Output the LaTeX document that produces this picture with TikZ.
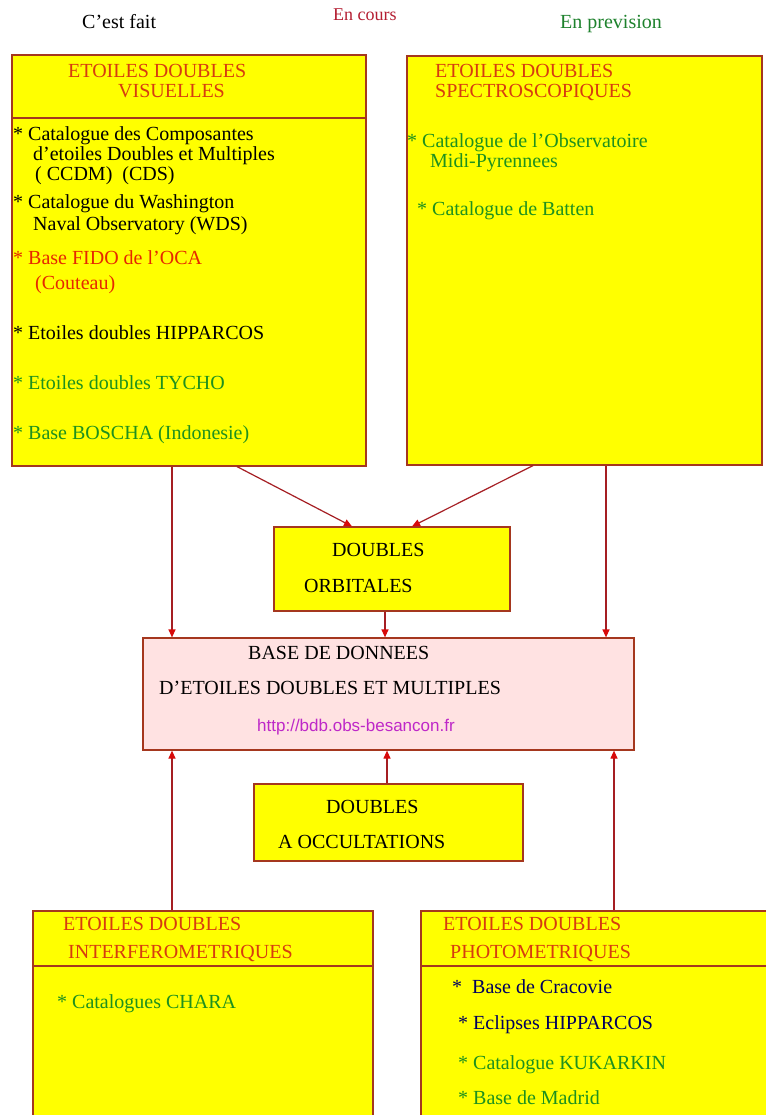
\documentclass[tikz,border=0pt]{standalone}
\usepackage{fontspec}
\setmainfont{Liberation Serif}
\newfontfamily\urlfont{Liberation Sans}
\usetikzlibrary{arrows.meta}
\definecolor{boxc}{RGB}{165,55,30}
\definecolor{linec}{RGB}{165,30,35}
\definecolor{tipc}{RGB}{215,10,10}
\definecolor{yfill}{RGB}{255,255,0}
\definecolor{pinkfill}{RGB}{255,226,226}
\definecolor{headc}{RGB}{215,60,15}
\definecolor{redc}{RGB}{230,40,0}
\definecolor{greenc}{RGB}{30,145,30}
\definecolor{navyc}{RGB}{0,0,95}
\definecolor{urlc}{RGB}{190,40,200}
\definecolor{coursc}{RGB}{180,30,50}
\definecolor{prevc}{RGB}{30,130,45}
\begin{document}
\begin{tikzpicture}[x=1pt,y=-1pt,
  ybox/.style={draw=boxc, fill=yfill, line width=1.2pt, inner sep=0pt},
  pbox/.style={draw=boxc, fill=pinkfill, line width=1.2pt, inner sep=0pt},
  txt/.style={anchor=base west, inner sep=0pt, font=\fontsize{20}{22}\selectfont},
  head/.style={txt, text=headc},
  arr/.style={draw=linec, line width=1.2pt, -{Triangle[length=8pt,width=7pt,color=tipc]}},
  sepline/.style={draw=boxc, line width=1.2pt}]
\useasboundingbox (0,0) rectangle (765,1115);
\fill[white] (0,0) rectangle (765,1115);

% top labels
\node[txt] (fait) at (82,29) {C’est fait};
\node[txt, text=coursc, font=\fontsize{18}{20}\selectfont] (cours) at (333,21) {En cours};
\node[txt, text=prevc] (prev) at (560,29) {En prevision};

% boxes
\node[ybox, minimum width=354pt, minimum height=411pt] (vis) at (189,260.5) {};
\node[ybox, minimum width=355pt, minimum height=409pt] (spec) at (584.5,260.5) {};
\node[ybox, minimum width=236pt, minimum height=84pt] (orb) at (392,569) {};
\node[pbox, minimum width=491pt, minimum height=112pt] (base) at (388.5,694) {};
\node[ybox, minimum width=269pt, minimum height=77pt] (occ) at (388.5,822.5) {};
\node[ybox, minimum width=340pt, minimum height=214pt] (interf) at (203,1018) {};
\node[ybox, minimum width=354pt, minimum height=214pt] (photo) at (598,1018) {};

% separators
\draw[sepline] (12,118) -- (366,118);
\draw[sepline] (33,966) -- (373,966);
\draw[sepline] (421,966) -- (775,966);

% visuelles
\node[head] (v1) at (68,78) {ETOILES DOUBLES};
\node[head] (v2) at (118,98) {VISUELLES};
\node[txt] (v3) at (13,141) {* Catalogue des Composantes};
\node[txt] (v4) at (33,161) {d’etoiles Doubles et Multiples};
\node[txt] (v5) at (35,181) {( CCDM)\ \ (CDS)};
\node[txt] (v6) at (13,209) {* Catalogue du Washington};
\node[txt] (v7) at (33,230) {Naval Observatory (WDS)};
\node[txt, text=redc] (v8) at (13,264) {* Base FIDO de l’OCA};
\node[txt, text=redc] (v9) at (35,289) {(Couteau)};
\node[txt] (v10) at (13,339) {* Etoiles doubles HIPPARCOS};
\node[txt, text=greenc] (v11) at (13,389) {* Etoiles doubles TYCHO};
\node[txt, text=greenc] (v12) at (13,439) {* Base BOSCHA (Indonesie)};

% spectroscopiques
\node[head] (s1) at (435,78) {ETOILES DOUBLES};
\node[head] (s2) at (435,98) {SPECTROSCOPIQUES};
\node[txt, text=greenc] (s3) at (407,148) {* Catalogue de l’Observatoire};
\node[txt, text=greenc] (s4) at (430,168) {Midi-Pyrennees};
\node[txt, text=greenc] (s5) at (417,216) {* Catalogue de Batten};

% orbitales
\node[txt] (o1) at (332,556) {DOUBLES};
\node[txt] (o2) at (304,592) {ORBITALES};

% base
\node[txt] (b1) at (248,659) {BASE DE DONNEES};
\node[txt] (b2) at (159,694) {D’ETOILES DOUBLES ET MULTIPLES};
\node[txt, text=urlc, font=\urlfont\fontsize{17}{19}\selectfont] (b3) at (257,731) {http://bdb.obs-besancon.fr};

% occultations
\node[txt] (c1) at (326,813) {DOUBLES};
\node[txt] (c2) at (278,848) {A OCCULTATIONS};

% interferometriques
\node[head] (i1) at (63,930) {ETOILES DOUBLES};
\node[head] (i2) at (68,958) {INTERFEROMETRIQUES};
\node[txt, text=greenc] (i3) at (57,1008) {* Catalogues CHARA};

% photometriques
\node[head] (p1) at (443,930) {ETOILES DOUBLES};
\node[head] (p2) at (450,958) {PHOTOMETRIQUES};
\node[txt, text=navyc] (p3) at (452,993) {*\ \ Base de Cracovie};
\node[txt, text=navyc] (p4) at (458,1029) {* Eclipses HIPPARCOS};
\node[txt, text=greenc] (p5) at (458,1069) {* Catalogue KUKARKIN};
\node[txt, text=greenc] (p6) at (458,1104) {* Base de Madrid};

% connector x positions
\coordinate (xL) at (172,0);
\coordinate (xR) at (606,0);
\coordinate (xM) at (385,0);
\coordinate (xD1a) at (237,0);
\coordinate (xD1b) at (352,0);
\coordinate (xD2a) at (533,0);
\coordinate (xD2b) at (412,0);
\coordinate (xUL) at (172,0);
\coordinate (xUM) at (387,0);
\coordinate (xUR) at (614,0);

\draw[arr] (vis.south -| xL) -- (base.north -| xL);
\draw[arr] (spec.south -| xR) -- (base.north -| xR);
\draw[arr] (vis.south -| xD1a) -- (orb.north -| xD1b);
\draw[arr] (spec.south -| xD2a) -- (orb.north -| xD2b);
\draw[arr] (orb.south -| xM) -- (base.north -| xM);
\draw[arr] (interf.north -| xUL) -- (base.south -| xUL);
\draw[arr] (occ.north -| xUM) -- (base.south -| xUM);
\draw[arr] (photo.north -| xUR) -- (base.south -| xUR);
\end{tikzpicture}
\end{document}
